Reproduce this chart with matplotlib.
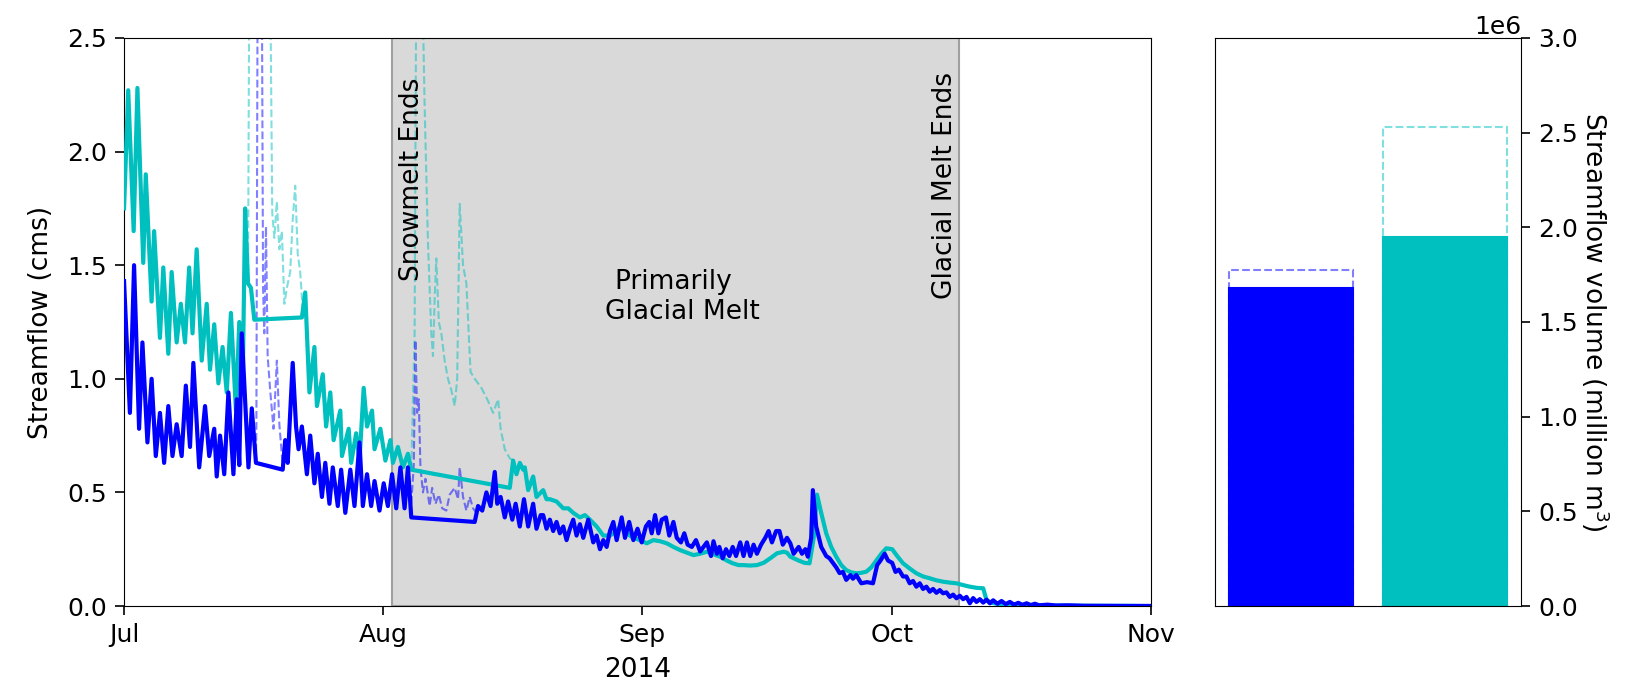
import numpy as np
import pandas as pd
import matplotlib
matplotlib.use('Agg')
import matplotlib.pyplot as plt
import matplotlib.dates as mdates

# streamflow (cms), time given as days since 2014-07-01
blue_days = [0.0, 0.7, 1.2, 1.8, 2.2, 2.8, 3.3, 3.8, 4.3, 4.8, 5.3, 5.8, 6.3, 6.9, 7.4, 7.9, 8.3, 9.0, 9.7, 10.2,
             10.8, 11.1, 11.5, 12.0, 12.5, 13.1, 13.5, 13.8, 14.1, 14.9, 15.3, 15.8, 19.0, 19.3, 19.6, 20.2, 20.6,
             20.9, 21.3, 21.9, 22.3, 22.8, 23.2, 23.7, 24.1, 24.6, 25.0, 25.6, 26.0, 26.5, 27.1, 27.6, 28.2, 28.6,
             29.1, 29.6, 30.0, 30.6, 31.1, 31.6, 32.1, 32.6, 33.1, 33.6, 34.0, 34.4, 42.0, 42.4, 42.9, 43.4, 43.9,
             44.4, 44.7, 45.1, 45.6, 46.0, 46.5, 46.9, 47.4, 47.9, 48.4, 49.0, 49.4, 49.9, 50.2, 50.6, 51.0, 51.4,
             51.8, 52.2, 52.6, 53.0, 53.4, 53.8, 54.2, 54.6, 55.0, 55.6, 56.2, 56.6, 57.0, 57.4, 57.8, 58.2, 58.6,
             59.0, 59.6, 60.0, 60.5, 61.0, 61.5, 62.0, 62.5, 62.9, 63.2, 63.6, 64.0, 64.4, 64.9, 65.3, 65.8, 66.2,
             66.7, 67.1, 67.5, 68.0, 68.5, 69.0, 69.4, 69.8, 70.3, 70.6, 71.0, 71.3, 71.7, 72.1, 72.5, 72.9, 73.3,
             73.8, 74.2, 74.6, 75.0, 75.4, 75.8, 76.3, 76.8, 77.2, 77.6, 78.1, 78.5, 78.9, 79.4, 79.8, 80.2, 80.8,
             81.2, 81.6, 81.9, 82.3, 82.5, 82.9, 83.5, 84.1, 84.5, 84.9, 85.3, 85.7, 86.1, 86.5, 87.0, 87.3, 87.7,
             88.3, 89.0, 89.7, 90.2, 90.6, 91.1, 91.5, 92.0, 92.4, 92.8, 93.3, 93.7, 94.1, 94.5, 94.9, 95.3, 95.7,
             96.1, 96.5, 96.9, 97.3, 97.7, 98.1, 98.5, 98.9, 99.3, 99.7, 100.1, 100.5, 100.9, 101.3, 101.7, 102.1,
             102.5, 102.9, 103.3, 103.7, 104.1, 104.6, 105.1, 105.6, 106.1, 106.6, 107.1, 107.6, 108.1, 108.6,
             109.1, 109.6, 110.6, 111.6, 113.0, 115.0, 123.0]
blue_flow = [1.43, 0.85, 1.50, 0.78, 1.16, 0.72, 1.00, 0.66, 0.85, 0.63, 0.88, 0.66, 0.80, 0.66, 0.97, 0.70, 1.07,
             0.61, 0.88, 0.66, 0.78, 0.57, 0.75, 0.58, 0.94, 0.58, 0.91, 0.62, 1.20, 0.61, 0.87, 0.63, 0.60, 0.73,
             0.63, 1.07, 0.79, 0.69, 0.79, 0.58, 0.75, 0.54, 0.67, 0.48, 0.63, 0.45, 0.61, 0.44, 0.60, 0.41, 0.60,
             0.44, 0.72, 0.44, 0.58, 0.44, 0.55, 0.42, 0.54, 0.44, 0.58, 0.43, 0.61, 0.43, 0.61, 0.39, 0.37, 0.44,
             0.42, 0.50, 0.44, 0.59, 0.45, 0.48, 0.39, 0.46, 0.38, 0.45, 0.35, 0.47, 0.35, 0.45, 0.34, 0.40, 0.40,
             0.34, 0.38, 0.33, 0.37, 0.32, 0.35, 0.29, 0.34, 0.38, 0.31, 0.36, 0.30, 0.38, 0.28, 0.31, 0.25, 0.29,
             0.26, 0.33, 0.37, 0.29, 0.39, 0.30, 0.37, 0.29, 0.34, 0.28, 0.35, 0.37, 0.32, 0.40, 0.32, 0.38, 0.39,
             0.31, 0.37, 0.30, 0.28, 0.32, 0.27, 0.26, 0.29, 0.24, 0.26, 0.28, 0.22, 0.285, 0.23, 0.26, 0.21, 0.25,
             0.22, 0.26, 0.22, 0.28, 0.22, 0.28, 0.22, 0.27, 0.23, 0.27, 0.30, 0.33, 0.28, 0.33, 0.33, 0.27, 0.30,
             0.276, 0.23, 0.26, 0.23, 0.25, 0.217, 0.30, 0.51, 0.35, 0.26, 0.22, 0.21, 0.19, 0.17, 0.145, 0.15,
             0.115, 0.136, 0.12, 0.136, 0.10, 0.105, 0.10, 0.18, 0.20, 0.23, 0.20, 0.19, 0.15, 0.16, 0.13, 0.13,
             0.10, 0.11, 0.085, 0.10, 0.075, 0.085, 0.063, 0.075, 0.058, 0.07, 0.056, 0.06, 0.04, 0.05, 0.034,
             0.045, 0.03, 0.04, 0.012, 0.035, 0.018, 0.03, 0.015, 0.028, 0.012, 0.025, 0.01, 0.022, 0.008, 0.018,
             0.006, 0.014, 0.005, 0.012, 0.004, 0.01, 0.003, 0.006, 0.002, 0.003, 0.001, 0.0]

cyan_days = [0.0, 0.5, 1.15, 1.6, 2.3, 2.6, 3.3, 3.6, 4.3, 4.7, 5.3, 5.7, 6.3, 6.8, 7.3, 7.8, 8.2, 8.7, 9.3, 9.9,
             10.3, 10.8, 11.3, 11.8, 12.3, 12.8, 13.4, 13.8, 14.2, 14.5, 14.85, 15.2, 15.6, 21.3, 21.7, 22.2, 22.8,
             23.1, 23.8, 24.2, 24.7, 25.1, 25.9, 26.1, 26.9, 27.2, 27.8, 28.2, 28.7, 29.1, 29.7, 30.0, 30.7, 31.3,
             31.9, 32.2, 32.8, 33.4, 34.0, 34.4, 46.2, 46.6, 47.0, 47.4, 47.8, 48.0, 48.4, 49.0, 49.4, 50.2, 50.6,
             51.0, 51.8, 52.6, 53.2, 53.8, 54.6, 55.2, 55.8, 56.6, 57.4, 58.2, 59.0, 59.4, 60.2, 61.0, 61.8, 62.6,
             63.4, 64.2, 65.0, 65.8, 66.6, 67.4, 68.2, 69.0, 69.8, 70.6, 71.4, 72.2, 72.9, 73.6, 74.2, 75.0, 75.8,
             76.6, 77.4, 78.2, 79.0, 79.4, 79.8, 80.8, 81.5, 82.1, 82.6, 83.0, 83.5, 84.1, 84.7, 85.3, 85.9, 86.5,
             87.1, 87.7, 88.3, 88.9, 89.5, 90.1, 90.7, 91.3, 92.0, 92.6, 93.3, 94.1, 94.9, 95.7, 96.5, 97.3, 98.1,
             98.9, 99.7, 100.5, 101.3, 102.1, 102.9, 103.3, 103.8, 104.5, 106.0, 110.0, 115.0, 123.0]
cyan_flow = [1.75, 2.27, 1.65, 2.28, 1.51, 1.90, 1.34, 1.65, 1.18, 1.49, 1.11, 1.47, 1.16, 1.33, 1.16, 1.49, 1.20,
             1.57, 1.08, 1.33, 1.04, 1.24, 0.98, 1.14, 0.94, 1.29, 0.86, 1.25, 0.95, 1.75, 1.42, 1.40, 1.26, 1.27,
             1.38, 0.94, 1.14, 0.88, 1.02, 0.79, 0.94, 0.73, 0.86, 0.66, 0.78, 0.63, 0.76, 0.64, 0.96, 0.79, 0.86,
             0.69, 0.78, 0.64, 0.73, 0.63, 0.70, 0.61, 0.67, 0.60, 0.52, 0.64, 0.58, 0.63, 0.60, 0.61, 0.51, 0.57,
             0.48, 0.51, 0.47, 0.47, 0.46, 0.43, 0.43, 0.41, 0.39, 0.40, 0.38, 0.35, 0.31, 0.31, 0.33, 0.35, 0.32,
             0.30, 0.29, 0.276, 0.29, 0.285, 0.276, 0.26, 0.246, 0.235, 0.224, 0.23, 0.239, 0.228, 0.217, 0.20,
             0.188, 0.18, 0.18, 0.178, 0.18, 0.19, 0.21, 0.232, 0.239, 0.235, 0.217, 0.20, 0.19, 0.188, 0.30, 0.49,
             0.41, 0.32, 0.26, 0.217, 0.18, 0.158, 0.148, 0.144, 0.146, 0.151, 0.17, 0.20, 0.23, 0.254, 0.25, 0.22,
             0.188, 0.165, 0.144, 0.13, 0.122, 0.113, 0.107, 0.103, 0.10, 0.092, 0.085, 0.08, 0.078, 0.026, 0.015,
             0.01, 0.006, 0.003, 0.001, 0.0]

# raw (unfilled) records over the gaps, dashed
blue_raw_jul_days = [15.8, 15.85, 16.0, 16.5, 16.65, 16.8, 17.0, 17.2, 17.5, 17.9, 18.3, 18.6, 19.0]
blue_raw_jul_flow = [0.63, 0.80, 2.8, 2.8, 1.4, 1.2, 1.67, 1.1, 0.95, 0.78, 1.08, 0.80, 0.62]
cyan_raw_jul_days = [14.85, 15.0, 17.5, 17.75, 18.0, 18.3, 18.6, 18.9, 19.2, 19.5, 19.9, 20.2, 20.5, 20.8, 21.1, 21.4]
cyan_raw_jul_flow = [1.42, 2.8, 2.8, 1.73, 1.62, 1.78, 1.57, 1.65, 1.33, 1.40, 1.47, 1.70, 1.85, 1.55, 1.47, 1.30]
blue_raw_aug_days = [34.4, 34.7, 34.9, 35.1, 35.3, 35.5, 35.8, 36.1, 36.6, 36.9, 37.3, 37.7, 38.1, 38.6, 39.0, 39.6,
                     40.0, 40.2, 40.6, 41.0, 41.4, 41.8, 42.2]
blue_raw_aug_flow = [0.45, 0.62, 1.17, 0.85, 0.91, 0.61, 0.50, 0.56, 0.44, 0.52, 0.45, 0.49, 0.43, 0.42, 0.49, 0.52,
                     0.47, 0.61, 0.48, 0.42, 0.48, 0.43, 0.41]
cyan_raw_aug_days = [34.4, 34.8, 35.0, 35.7, 36.0, 36.4, 36.8, 37.0, 37.2, 37.4, 37.7, 38.0, 38.4, 38.8, 39.2, 39.6,
                     39.9, 40.2, 40.6, 41.0, 41.5, 42.0, 42.8, 43.5, 44.2, 44.8, 45.1, 45.6, 46.2, 46.6]
cyan_raw_aug_flow = [0.60, 1.2, 2.8, 2.8, 2.2, 1.6, 1.2, 1.10, 1.35, 1.53, 1.25, 1.20, 1.08, 1.00, 0.95, 0.88, 1.00,
                     1.77, 1.50, 1.42, 1.03, 1.00, 0.96, 0.91, 0.85, 0.91, 0.78, 0.69, 0.65, 0.64]

# seasonal volumes (m3): filled record and raw record
volume = [1.68e6, 1.95e6]
volume_raw = [1.775e6, 2.53e6]
bar_colors = ['blue', 'c']

start = pd.Timestamp('2014-07-01')


def to_dates(days):
    return start + pd.to_timedelta(np.array(days), unit='D')


fig = plt.figure(figsize=(16.28, 6.87), dpi=100)
ax = fig.add_axes([0.0762, 0.1179, 0.6308, 0.8268])
ax2 = fig.add_axes([0.7463, 0.1179, 0.188, 0.8268])

ax.axvspan(pd.Timestamp('2014-08-02 02:00'), pd.Timestamp('2014-10-09'), facecolor='#d9d9d9',
           edgecolor='#a0a0a0', lw=1.5, zorder=1)

ax.plot(to_dates(cyan_raw_jul_days), cyan_raw_jul_flow, '--', color='c', alpha=0.5, lw=1.5, zorder=2)
ax.plot(to_dates(cyan_raw_aug_days), cyan_raw_aug_flow, '--', color='c', alpha=0.5, lw=1.5, zorder=2)
ax.plot(to_dates(blue_raw_jul_days), blue_raw_jul_flow, '--', color='blue', alpha=0.5, lw=1.5, zorder=2)
ax.plot(to_dates(blue_raw_aug_days), blue_raw_aug_flow, '--', color='blue', alpha=0.5, lw=1.5, zorder=2)
ax.plot(to_dates(cyan_days), cyan_flow, color='c', lw=3, zorder=3)
ax.plot(to_dates(blue_days), blue_flow, color='blue', lw=3, zorder=4)

ax.set_xlim(pd.Timestamp('2014-07-01'), pd.Timestamp('2014-11-01'))
ax.set_ylim(0, 2.5)
ax.xaxis.set_major_locator(mdates.MonthLocator())
ax.xaxis.set_major_formatter(mdates.DateFormatter('%b'))
ax.set_yticks([0, 0.5, 1.0, 1.5, 2.0, 2.5])
ax.tick_params(labelsize=18, length=6.5, width=1.2, pad=6)
ax.set_ylabel('Streamflow (cms)', fontsize=19, labelpad=9)
ax.set_xlabel('2014', fontsize=19, labelpad=7)

ax.text(pd.Timestamp('2014-08-04 12:00'), 1.88, 'Snowmelt Ends', rotation=90, ha='center', va='center', fontsize=19)
ax.text(pd.Timestamp('2014-10-07 08:00'), 1.85, 'Glacial Melt Ends', rotation=90, ha='center', va='center',
        fontsize=19)
ax.text(pd.Timestamp('2014-09-05 20:00'), 1.36, 'Primarily  \nGlacial Melt', ha='center', va='center',
        fontsize=19)

x = np.arange(len(volume))
ax2.bar(x, volume_raw, width=0.8, fill=False, edgecolor=['#8080ff', '#80dfdf'], linestyle='--', lw=1.5)
ax2.bar(x, volume, width=0.8, color=bar_colors, edgecolor=bar_colors, lw=1.5)
ax2.set_ylim(0, 3e6)
ax2.set_xticks([])
ax2.yaxis.tick_right()
ax2.yaxis.set_label_position('right')
ax2.tick_params(labelsize=18, length=6.5, width=1.2, pad=6)
ax2.yaxis.get_offset_text().set_fontsize(18)
ax2.set_ylabel('Streamflow volume (million m$^3$)', fontsize=19, rotation=270, labelpad=24)

fig.savefig('out.png', dpi=100)
